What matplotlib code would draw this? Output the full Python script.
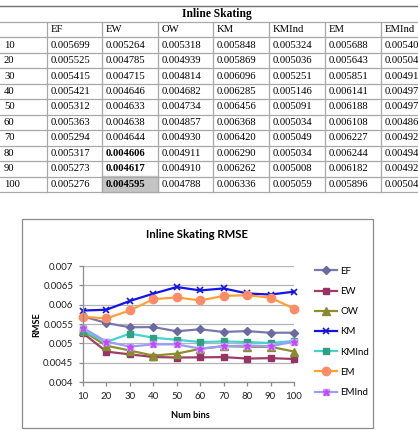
import matplotlib
matplotlib.use("Agg")
import matplotlib.pyplot as plt
from matplotlib.lines import Line2D
from matplotlib.patches import Rectangle
from matplotlib.legend_handler import HandlerTuple

W, H = 418, 430

bins = [10, 20, 30, 40, 50, 60, 70, 80, 90, 100]
names = ["EF", "EW", "OW", "KM", "KMInd", "EM", "EMInd"]
ef = [0.005699, 0.005525, 0.005415, 0.005421, 0.005312, 0.005363, 0.005294, 0.005317, 0.005273, 0.005276]
ew = [0.005264, 0.004785, 0.004715, 0.004646, 0.004633, 0.004638, 0.004644, 0.004606, 0.004617, 0.004595]
ow = [0.005318, 0.004939, 0.004814, 0.004682, 0.004734, 0.004857, 0.004930, 0.004911, 0.004910, 0.004788]
km = [0.005848, 0.005869, 0.006096, 0.006285, 0.006456, 0.006368, 0.006420, 0.006290, 0.006262, 0.006336]
kmind = [0.005324, 0.005036, 0.005251, 0.005146, 0.005091, 0.005034, 0.005049, 0.005034, 0.005008, 0.005059]
em = [0.005688, 0.005643, 0.005851, 0.006141, 0.006188, 0.006108, 0.006227, 0.006244, 0.006182, 0.005896]
# last column is cut off in the picture, trailing digits estimated
emind = [0.005402, 0.005043, 0.004915, 0.004973, 0.004972, 0.004864, 0.004921, 0.004942, 0.004925, 0.005043]
series = [ef, ew, ow, km, kmind, em, emind]
bold_cells = [(7, 1), (8, 1), (9, 1)]
shaded_cell = (9, 1)
yticks = [0.004, 0.0045, 0.005, 0.0055, 0.006, 0.0065, 0.007]
ytick_labels = ["0.004", "0.0045", "0.005", "0.0055", "0.006", "0.0065", "0.007"]


def fx(x):
    return x / W


def fy(y):
    return 1 - y / H


fig = plt.figure(figsize=(W / 100, H / 100), dpi=100)
fig.patch.set_facecolor("white")

# ---- table ----
serif = "Liberation Serif"
grid_c = "#a8a8a8"
col_x = [0, 47, 102, 158, 213, 269, 325, 381, 437]
row_h = 15.45
top_hdr = 22

# shaded cell
r, c = shaded_cell
y0 = top_hdr + row_h * (r + 1)
fig.patches.append(Rectangle((fx(col_x[c + 1]), fy(y0 + row_h)),
                             (col_x[c + 2] - col_x[c + 1]) / W, row_h / H,
                             transform=fig.transFigure, color="#c4c4c4", zorder=0))

fig.lines.append(Line2D([0, 1], [fy(6), fy(6)], transform=fig.transFigure, color="#707070", lw=1.0))
for k in range(12):
    y = top_hdr + row_h * k
    fig.lines.append(Line2D([0, 1], [fy(y), fy(y)], transform=fig.transFigure, color=grid_c, lw=0.9))
for x in col_x[1:]:
    fig.lines.append(Line2D([fx(x), fx(x)], [fy(top_hdr), fy(top_hdr + row_h * 11)],
                            transform=fig.transFigure, color=grid_c, lw=0.9))

fig.text(fx(217), fy(14), "Inline Skating", family=serif, weight="bold", fontsize=8.3,
         ha="center", va="center")
for j, n in enumerate(names):
    fig.text(fx(col_x[j + 1] + 4), fy(top_hdr + row_h / 2), n, family=serif, fontsize=7.7,
             ha="left", va="center")
for i, b in enumerate(bins):
    yc = top_hdr + row_h * (i + 1) + row_h / 2
    fig.text(fx(4), fy(yc), str(b), family=serif, fontsize=7.7, ha="left", va="center")
    for j, s in enumerate(series):
        fig.text(fx(col_x[j + 1] + 4), fy(yc), "%.6f" % s[i], family=serif, fontsize=7.7,
                 ha="left", va="center",
                 weight="bold" if (i, j) in bold_cells else "normal")

# ---- chart ----
sans = "Lato"
fig.patches.append(Rectangle((fx(22), fy(428)), (373 - 22) / W, (428 - 219) / H,
                             transform=fig.transFigure, fill=False, edgecolor="#8c8c8c", lw=0.9))

ax = fig.add_axes([fx(83), fy(382), (294 - 83) / W, (382 - 266) / H])
styles = [
    dict(color="#7878AC", marker="D", mfc="#6A6AA2", mec="#6A6AA2", ms=4.5),
    dict(color="#9E3E66", marker="s", mfc="#993366", mec="#993366", ms=5),
    dict(color="#8E8E2C", marker="^", mfc="#8A8A30", mec="#8A8A30", ms=5.5),
    dict(color="#1414E6", marker="x", mfc="#1414E6", mec="#1414E6", ms=5, mew=1.2),
    dict(color="#44D4D0", marker="s", mfc="#2FA080", mec="#2FA080", ms=5),
    dict(color="#FFA233", marker="o", mfc="#FF8C66", mec="#FF8C66", ms=6),
    dict(color="#9C9CFF", marker="s", mfc="#B8AAFF", mec="#B8AAFF", ms=5),
]
handles = []
for s, n, st in zip(series, names, styles):
    ln, = ax.plot(bins, s, lw=1.6, label=n, clip_on=False, **st)
    handles.append(ln)
star, = ax.plot(bins, emind, ls="none", marker="*", color="#CC44FF", ms=4.5, clip_on=False)
handles[-1] = (handles[-1], star)

ax.set_xlim(10, 100)
ax.set_ylim(0.004, 0.007)
ax.set_xticks(bins)
ax.set_xticklabels([str(b) for b in bins], family=sans, fontsize=7)
ax.set_yticks(yticks)
ax.set_yticklabels(ytick_labels, family=sans, fontsize=7)
ax.yaxis.grid(True, color="#b4b4b4", lw=0.9)
ax.set_axisbelow(True)
for sp in ["top", "right"]:
    ax.spines[sp].set_visible(False)
for sp in ["left", "bottom"]:
    ax.spines[sp].set_color("#8c8c8c")
    ax.spines[sp].set_linewidth(0.9)
ax.tick_params(length=3, color="#8c8c8c", width=0.9, pad=4, labelcolor="#222222")

fig.text(fx(197), fy(235), "Inline Skating RMSE", family=sans, weight="bold", fontsize=8.2,
         ha="center", va="center")
fig.text(fx(190), fy(415), "Num bins", family=sans, weight="bold", fontsize=6.6,
         ha="center", va="center")
fig.text(fx(37), fy(325), "RMSE", family=sans, weight="bold", fontsize=6.6,
         ha="center", va="center", rotation=90)

fig.legend(handles, names, loc="upper left", bbox_to_anchor=(fx(310), fy(262)),
           frameon=False, prop=dict(family=sans, size=7), handlelength=2.3,
           handletextpad=0.3, labelspacing=1.15, borderpad=0,
           handler_map={tuple: HandlerTuple(ndivide=None, pad=-2.3)})

fig.savefig("out.png", dpi=100)
